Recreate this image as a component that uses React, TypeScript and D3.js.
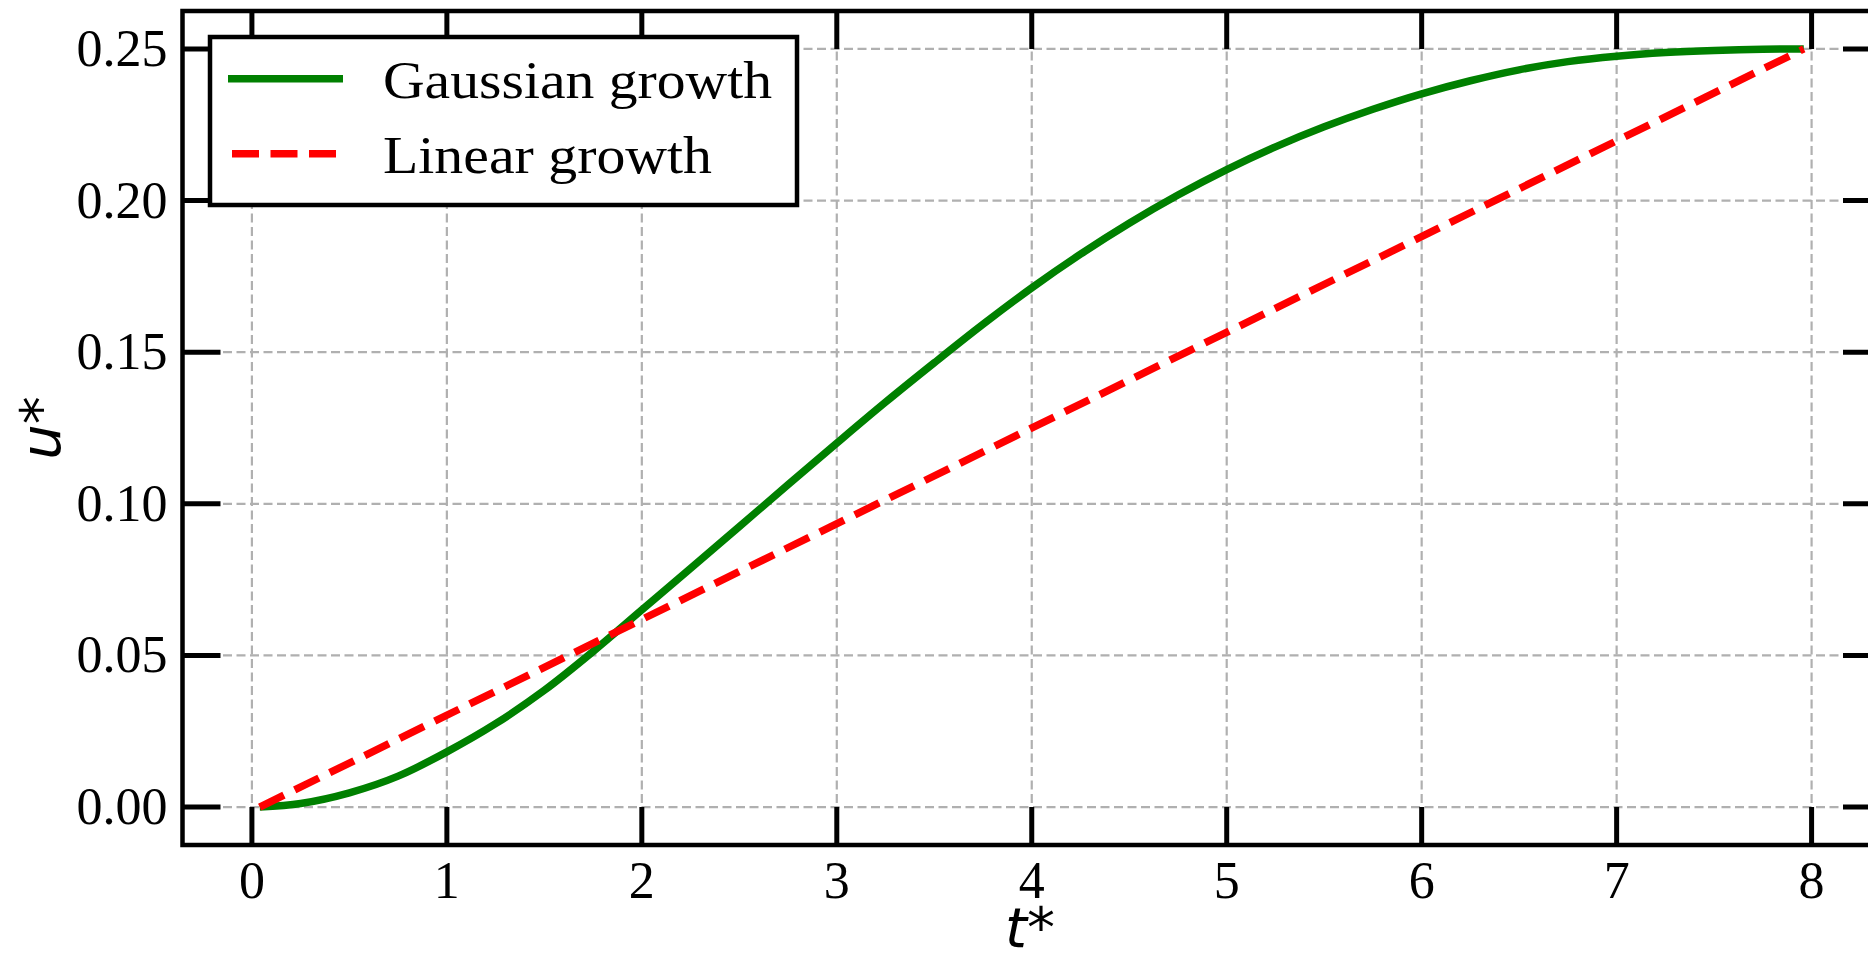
import { useEffect, useRef } from "react";
import * as d3 from "d3";

// Gaussian growth curve
const T_GAUSS = [0.04, 0.25, 0.5, 0.75, 1.0, 1.25, 1.5, 1.75, 2.0, 2.25, 2.5, 2.75, 3.0, 3.25, 3.5, 3.75, 4.0, 4.25, 4.5, 4.75, 5.0, 5.25, 5.5, 5.75, 6.0, 6.25, 6.5, 6.75, 7.0, 7.25, 7.5, 7.75, 7.96];
const U_GAUSS = [0, 0.0012, 0.0047, 0.0102, 0.0182, 0.0275, 0.0385, 0.0513, 0.065, 0.0787, 0.0925, 0.1063, 0.12, 0.1335, 0.1465, 0.1592, 0.1712, 0.1823, 0.1925, 0.2018, 0.2102, 0.2177, 0.2243, 0.2301, 0.2352, 0.2395, 0.2431, 0.2458, 0.2476, 0.2488, 0.2495, 0.2499, 0.25];

// Linear growth
const T_LINEAR = [0.04, 7.96];
const U_LINEAR = [0, 0.25];

const X_TICKS = [0, 1, 2, 3, 4, 5, 6, 7, 8];
const Y_TICKS = [0, 0.05, 0.1, 0.15, 0.2, 0.25];
const X_DOMAIN = [-0.356, 8.356];
const Y_DOMAIN = [-0.0125, 0.2625];
const SERIES = ["Gaussian growth", "Linear growth"];
const COLORS = ["#008000", "#ff0000"];

const W = 1868;
const H = 963;
const SERIF = "'Liberation Serif', 'Times New Roman', serif";
const SANS = "'DejaVu Sans', sans-serif";

export default function App() {
  const svgRef = useRef<SVGSVGElement>(null);

  useEffect(() => {
    if (!svgRef.current) return;
    const svg = d3.select(svgRef.current);
    svg.selectAll("*").remove();

    // axes box (right edge falls just outside the picture)
    const left = 182.5, right = 1881, top = 11, bottom = 845;
    const x = d3.scaleLinear().domain(X_DOMAIN).range([left, right]);
    const y = d3.scaleLinear().domain(Y_DOMAIN).range([bottom, top]);

    const g = svg.append("g");

    // grid
    const grid = g.append("g").attr("stroke", "#b0b0b0").attr("stroke-width", 2.2).attr("stroke-dasharray", "9,4.5");
    X_TICKS.forEach((t) => {
      grid.append("line").attr("x1", x(t)).attr("x2", x(t)).attr("y1", top).attr("y2", bottom);
    });
    Y_TICKS.forEach((v) => {
      grid.append("line").attr("x1", left).attr("x2", right).attr("y1", y(v)).attr("y2", y(v));
    });

    // series
    const gauss = T_GAUSS.map((t, i) => [t, U_GAUSS[i]] as [number, number]);
    const lin = T_LINEAR.map((t, i) => [t, U_LINEAR[i]] as [number, number]);
    const line = d3.line<[number, number]>().x((d) => x(d[0])).y((d) => y(d[1])).curve(d3.curveMonotoneX);

    g.append("path").attr("d", line(gauss)).attr("fill", "none")
      .attr("stroke", COLORS[0]).attr("stroke-width", 7.5);
    g.append("path").attr("d", line(lin)).attr("fill", "none")
      .attr("stroke", COLORS[1]).attr("stroke-width", 7.5).attr("stroke-dasharray", "27,12");

    // ticks, pointing inwards on all four sides
    const tickLen = 38;
    const ticks = g.append("g").attr("stroke", "#000").attr("stroke-width", 5);
    X_TICKS.forEach((t) => {
      ticks.append("line").attr("x1", x(t)).attr("x2", x(t)).attr("y1", bottom).attr("y2", bottom - tickLen);
      ticks.append("line").attr("x1", x(t)).attr("x2", x(t)).attr("y1", top).attr("y2", top + tickLen);
    });
    Y_TICKS.forEach((v) => {
      ticks.append("line").attr("x1", left).attr("x2", left + tickLen).attr("y1", y(v)).attr("y2", y(v));
      ticks.append("line").attr("x1", right).attr("x2", right - tickLen).attr("y1", y(v)).attr("y2", y(v));
    });

    // frame
    g.append("rect").attr("x", left).attr("y", top).attr("width", right - left).attr("height", bottom - top)
      .attr("fill", "none").attr("stroke", "#000").attr("stroke-width", 4.5);

    // tick labels
    X_TICKS.forEach((t) => {
      g.append("text").attr("x", x(t)).attr("y", 898).attr("text-anchor", "middle")
        .style("font-family", SERIF).style("font-size", "52px").attr("fill", "#000")
        .text(String(t));
    });
    Y_TICKS.forEach((v) => {
      g.append("text").attr("x", left - 15).attr("y", y(v) + 17).attr("text-anchor", "end")
        .style("font-family", SERIF).style("font-size", "52px").attr("fill", "#000")
        .text(d3.format(".2f")(v));
    });

    // axis labels
    const xl = g.append("text").attr("x", 1030).attr("y", 947).attr("text-anchor", "middle")
      .style("font-family", SANS).style("font-size", "56px").attr("fill", "#000");
    xl.append("tspan").style("font-style", "italic").text("t");
    xl.append("tspan").text("*");

    const yl = g.append("text").attr("transform", "translate(60,428) rotate(-90)").attr("text-anchor", "middle")
      .style("font-family", SANS).style("font-size", "56px").attr("fill", "#000");
    yl.append("tspan").style("font-style", "italic").text("u");
    yl.append("tspan").text("*");

    // legend
    const lg = g.append("g");
    lg.append("rect").attr("x", 210).attr("y", 37).attr("width", 587).attr("height", 168)
      .attr("fill", "#fff").attr("stroke", "#000").attr("stroke-width", 4.5);
    const rows = [78.7, 153.7];
    SERIES.forEach((name, i) => {
      lg.append("line").attr("x1", i === 0 ? 228 : 232).attr("x2", i === 0 ? 343 : 337)
        .attr("y1", rows[i]).attr("y2", rows[i])
        .attr("stroke", COLORS[i]).attr("stroke-width", 7.5)
        .attr("stroke-dasharray", i === 0 ? null : "27,11.5");
      lg.append("text").attr("x", 383).attr("y", rows[i] + 19)
        .style("font-family", SERIF).style("font-size", "53px").attr("fill", "#000")
        .attr("textLength", i === 0 ? 389 : 329).attr("lengthAdjust", "spacingAndGlyphs")
        .text(name);
    });

    return () => {
      svg.selectAll("*").remove();
    };
  }, []);

  return (
    <div style={{ position: "absolute", left: 0, top: 0, width: W, height: H, background: "#fff" }}>
      <svg ref={svgRef} width={W} height={H} style={{ display: "block", overflow: "hidden" }} />
    </div>
  );
}
